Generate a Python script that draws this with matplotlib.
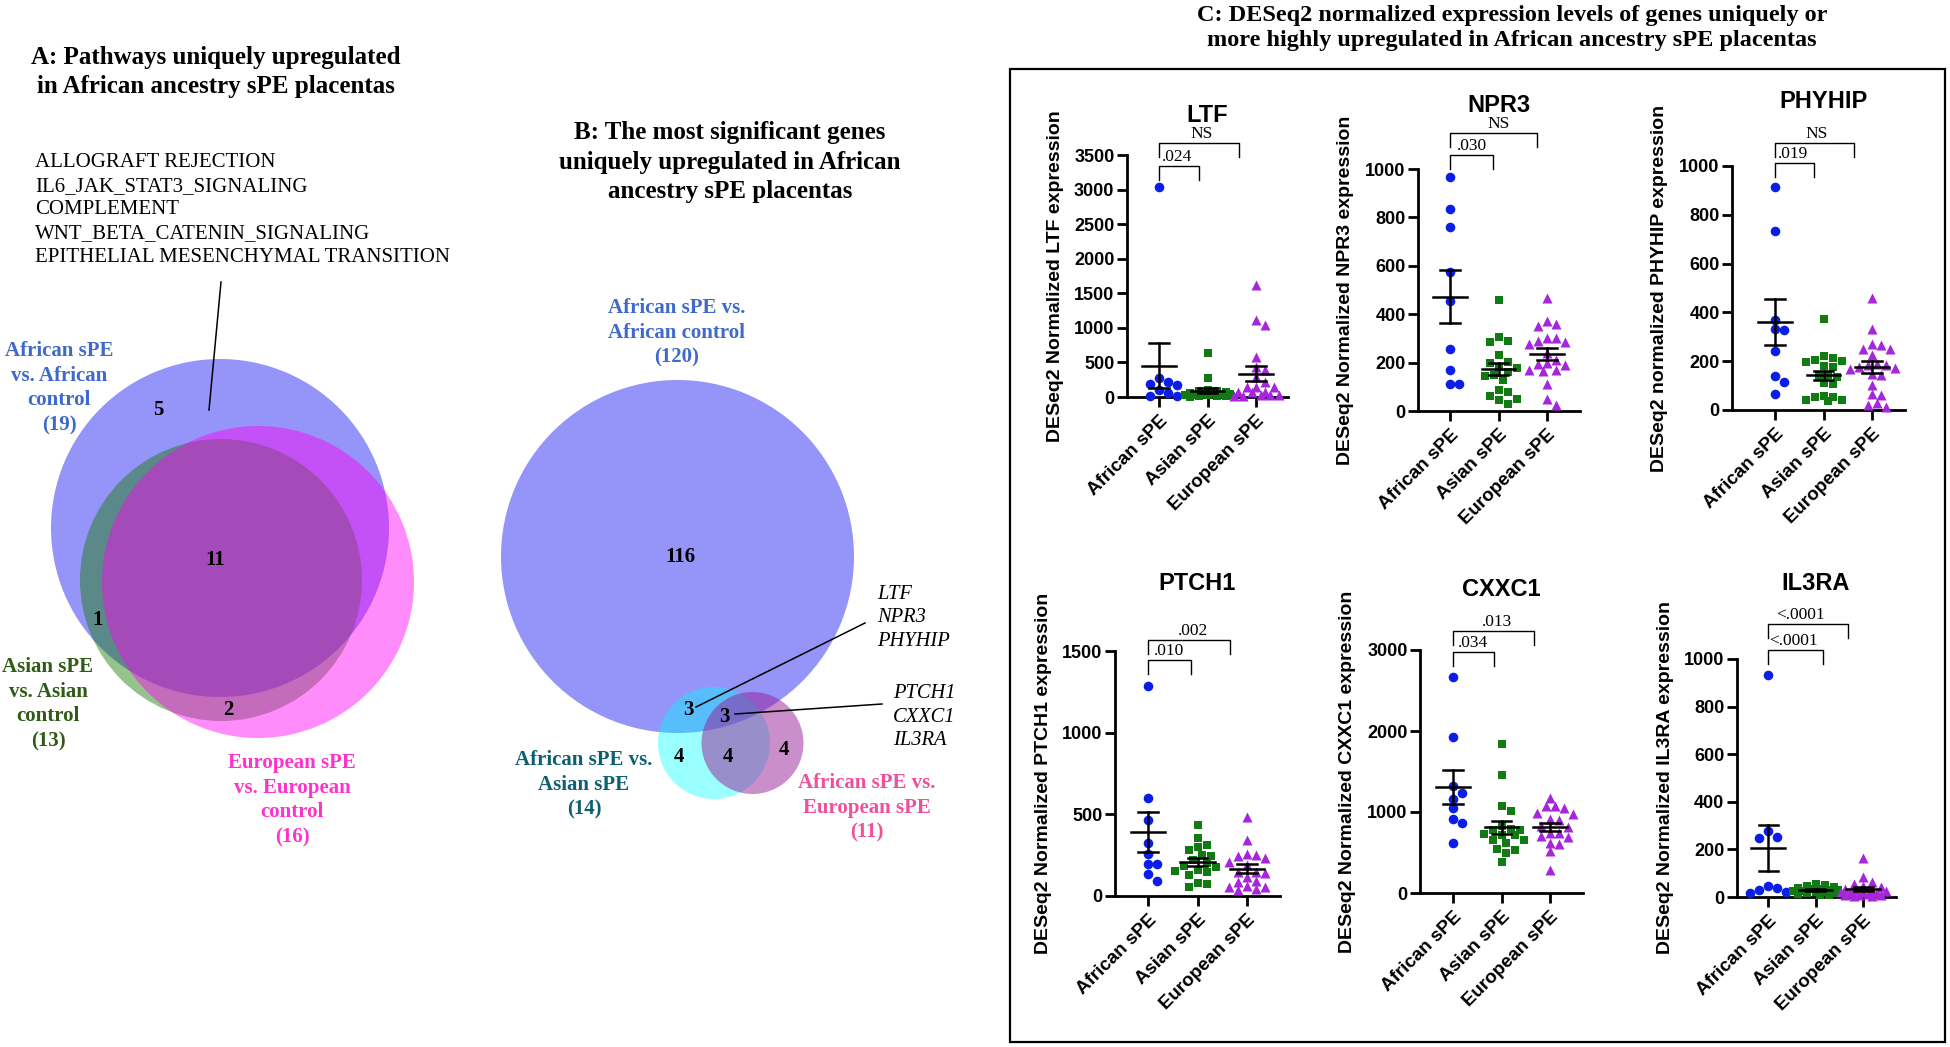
import numpy as np
import matplotlib
matplotlib.use('Agg')
import matplotlib.pyplot as plt
from matplotlib.patches import Circle, Rectangle

# ---------------- DATA ----------------
groups = ['African sPE', 'Asian sPE', 'European sPE']
genes = ['LTF', 'NPR3', 'PHYHIP', 'PTCH1', 'CXXC1', 'IL3RA']
ylabels = ['DESeq2 Normalized LTF expression', 'DESeq2 Normalized NPR3 expression',
           'DESeq2 normalized PHYHIP expression', 'DESeq2 Normalized PTCH1 expression',
           'DESeq2 Normalized CXXC1 expression', 'DESeq2 Normalized IL3RA expression']
y_top = [3500, 1000, 1000, 1500, 3000, 1000]
y_step = [500, 200, 200, 500, 1000, 200]
p_afr_asian = ['.024', '.030', '.019', '.010', '.034', '<.0001']
p_afr_europ = ['NS', 'NS', 'NS', '.002', '.013', '<.0001']

ltf_african = [3040, 275, 190, 215, 175, 100, 60, 15, 10]
ltf_asian = [630, 270, 100, 90, 80, 70, 60, 55, 50, 45, 40, 35, 30, 25, 20, 15, 10, 5]
ltf_european = [1627, 1110, 1040, 580, 435, 390, 290, 220, 150, 145, 140, 75, 72, 70, 25, 24, 22, 20, 15]

npr3_african = [966, 834, 760, 575, 454, 258, 168, 113, 113]
npr3_asian = [458, 306, 290, 285, 230, 203, 200, 182, 178, 161, 150, 145, 127, 86, 79, 62, 51, 44, 30]
npr3_european = [465, 370, 360, 350, 300, 290, 300, 285, 275, 240, 210, 200, 196, 192, 170, 168, 165, 113, 51, 23]

phyhip_african = [915, 734, 369, 331, 328, 243, 139, 116, 66]
phyhip_asian = [372, 222, 215, 205, 200, 198, 180, 175, 145, 140, 135, 110, 105, 58, 55, 52, 42, 40, 38]
phyhip_european = [460, 330, 270, 265, 250, 248, 225, 190, 186, 184, 175, 173, 170, 148, 142, 104, 65, 60, 14, 20, 30]

ptch1_african = [1284, 597, 465, 326, 257, 194, 194, 132, 92]
ptch1_asian = [434, 353, 310, 300, 281, 250, 245, 220, 200, 182, 178, 160, 155, 150, 128, 80, 75, 57]
ptch1_european = [485, 342, 255, 250, 245, 230, 210, 190, 150, 148, 140, 118, 90, 86, 60, 57, 55, 40, 35]

cxxc1_african = [2671, 1923, 1315, 1233, 1159, 1048, 912, 863, 616]
cxxc1_asian = [1838, 1460, 1068, 1007, 830, 790, 781, 775, 730, 720, 710, 660, 650, 616, 540, 530, 500, 382]
cxxc1_european = [1171, 1080, 1068, 1050, 990, 980, 910, 900, 830, 815, 745, 735, 700, 690, 620, 610, 514, 288]

il3ra_african = [931, 276, 252, 250, 45, 38, 28, 20, 15]
il3ra_asian = [55, 50, 45, 40, 38, 35, 33, 30, 28, 26, 25, 22, 20, 18, 15, 12, 10, 8]
il3ra_european = [165, 85, 65, 55, 45, 40, 35, 30, 28, 25, 22, 20, 18, 15, 12, 10, 10, 8, 6, 5]

gene_data = [
    [ltf_african, ltf_asian, ltf_european],
    [npr3_african, npr3_asian, npr3_european],
    [phyhip_african, phyhip_asian, phyhip_european],
    [ptch1_african, ptch1_asian, ptch1_european],
    [cxxc1_african, cxxc1_asian, cxxc1_european],
    [il3ra_african, il3ra_asian, il3ra_european],
]

# Venn counts
venn_a_counts = ['5', '11', '1', '2']
venn_a_sets = ['African sPE\nvs. African\ncontrol\n(19)', 'Asian sPE\nvs. Asian\ncontrol\n(13)',
               'European sPE\nvs. European\ncontrol\n(16)']
pathways = ['ALLOGRAFT REJECTION', 'IL6_JAK_STAT3_SIGNALING', 'COMPLEMENT',
            'WNT_BETA_CATENIN_SIGNALING', 'EPITHELIAL MESENCHYMAL TRANSITION']
venn_b_counts = ['116', '3', '3', '4', '4', '4']
venn_b_sets = ['African sPE vs.\nAfrican control\n(120)', 'African sPE vs.\nAsian sPE\n(14)',
               'African sPE vs.\nEuropean sPE\n(11)']
genes_b1 = ['LTF', 'NPR3', 'PHYHIP']
genes_b2 = ['PTCH1', 'CXXC1', 'IL3RA']

# ---------------- STYLE / LAYOUT ----------------
W, H = 1950, 1047
SERIF = 'Liberation Serif'
SANS = 'Liberation Sans'
fig = plt.figure(figsize=(W / 100, H / 100), dpi=100)

ov = fig.add_axes([0, 0, 1, 1])
ov.set_xlim(0, W)
ov.set_ylim(H, 0)
ov.axis('off')

# ----- Panel A -----
ov.text(216, 72, 'A: Pathways uniquely upregulated\nin African ancestry sPE placentas',
        ha='center', va='center', fontsize=18, fontweight='bold', family=SERIF, linespacing=1.35)
ov.text(35, 210, '\n'.join(pathways), ha='left', va='center', fontsize=15,
        family=SERIF, linespacing=1.33)
ov.plot([221, 209], [282, 410], color='black', lw=1.1)

ov.add_patch(Circle((220, 528), 169, facecolor=(0, 0, 243 / 255), alpha=0.42, lw=0))
ov.add_patch(Circle((221, 580), 141, facecolor=(22 / 255, 122 / 255, 0), alpha=0.45, lw=0))
ov.add_patch(Circle((258, 582), 156, facecolor=(1, 0, 245 / 255), alpha=0.45, lw=0))
for txt, (x, y) in zip(venn_a_counts, [(158, 410), (215, 560), (98, 620), (228, 710)]):
    ov.text(x, y, txt, ha='center', va='center', fontsize=15, fontweight='bold', family=SERIF)
for txt, (x, y), col in zip(venn_a_sets, [(59, 388), (48, 704), (292, 800)],
                            ['#3F6ACB', '#2F5B17', '#FF33CC']):
    ov.text(x, y, txt, ha='center', va='center', fontsize=15, fontweight='bold',
            family=SERIF, color=col, linespacing=1.33)

# ----- Panel B -----
ov.text(730, 162, 'B: The most significant genes\nuniquely upregulated in African\nancestry sPE placentas',
        ha='center', va='center', fontsize=18, fontweight='bold', family=SERIF, linespacing=1.35)
ov.add_patch(Circle((677.5, 556.5), 176.5, facecolor=(0, 0, 243 / 255), alpha=0.42, lw=0))
ov.add_patch(Circle((714, 743), 56, facecolor=(0, 1, 1), alpha=0.4, lw=0))
ov.add_patch(Circle((752.5, 743), 51, facecolor=(150 / 255, 30 / 255, 150 / 255), alpha=0.5, lw=0))
for txt, (x, y) in zip(venn_b_counts, [(680, 557), (688, 710), (724, 717), (679, 757),
                                       (728, 757), (784, 750)]):
    ov.text(x, y, txt, ha='center', va='center', fontsize=15, fontweight='bold', family=SERIF)
for txt, (x, y), col in zip(venn_b_sets, [(677, 333), (584, 785), (867, 808)],
                            ['#3F6ACB', '#0E6070', '#F0509A']):
    ov.text(x, y, txt, ha='center', va='center', fontsize=15, fontweight='bold',
            family=SERIF, color=col, linespacing=1.33)
ov.text(877, 618, '\n'.join(genes_b1), ha='left', va='center', fontsize=14.8,
        style='italic', family=SERIF, linespacing=1.35)
ov.text(893, 717, '\n'.join(genes_b2), ha='left', va='center', fontsize=14.8,
        style='italic', family=SERIF, linespacing=1.35)
ov.plot([696, 865], [707, 623], color='black', lw=1.1)
ov.plot([735, 882], [714, 704], color='black', lw=1.1)

# ----- Panel C -----
ov.text(1512, 28, 'C: DESeq2 normalized expression levels of genes uniquely or\n'
        'more highly upregulated in African ancestry sPE placentas',
        ha='center', va='center', fontsize=17.5, fontweight='bold', family=SERIF, linespacing=1.3)
ov.add_patch(Rectangle((1010, 69), 1945 - 1010, 1042 - 69, fill=False, lw=1.6, edgecolor='black'))

layout = [
    dict(left=1127, right=1288, top=155, bottom=397, c0=1159, step=48.5, title_y=115),
    dict(left=1418, right=1580, top=169, bottom=411, c0=1450, step=48.5, title_y=106),
    dict(left=1732, right=1905, top=166, bottom=410, c0=1775, step=48.5, title_y=102),
    dict(left=1115, right=1280, top=651, bottom=896, c0=1148, step=49.5, title_y=583),
    dict(left=1420, right=1583, top=650, bottom=893, c0=1453, step=48.5, title_y=590),
    dict(left=1737, right=1896, top=659, bottom=897, c0=1768, step=47.5, title_y=583),
]
# significance brackets: height (data units), right end and label x (category units)
bracket1_h = [3341, 1058, 1012, 1445, 2975, 1039]
bracket2_h = [3673, 1149, 1094, 1567, 3238, 1148]
bracket1_x1 = [0.83, 0.88, 0.80, 0.86, 0.84, 1.15]
bracket2_x1 = [1.65, 1.80, 1.63, 1.65, 1.67, 1.68]
label1_x = [0.37, 0.45, 0.37, 0.42, 0.41, 0.53]
label2_x = [0.87, 1.00, 0.85, 0.91, 0.90, 0.69]

colors = ['#0A1EE6', '#127A12', '#A626DB']
markers = ['o', 's', '^']
msizes = [48, 40, 52]


def swarm_offsets(vals, ypx, xpx, diam):
    vals = np.asarray(vals, float)
    order = np.argsort(-vals)
    placed = []
    offs = np.zeros(len(vals))
    cands = [0, 0.5, -0.5, 1, -1, 1.5, -1.5, 2, -2, 2.5, -2.5]
    for i in order:
        y = vals[i] * ypx
        best_c, best_d = 0, -1
        for c in cands:
            cx = c * diam
            d = min([np.hypot(cx - px, y - py) for px, py in placed]) if placed else 1e9
            if d >= diam * 0.95:
                best_c = cx
                break
            if d > best_d:
                best_d, best_c = d, cx
        placed.append((best_c, y))
        offs[i] = best_c / xpx
    return offs


for k, gene in enumerate(genes):
    L = layout[k]
    ax = fig.add_axes([L['left'] / W, 1 - L['bottom'] / H,
                       (L['right'] - L['left']) / W, (L['bottom'] - L['top']) / H])
    ax.set_facecolor('none')
    ax.set_xlim((L['left'] - L['c0']) / L['step'], (L['right'] - L['c0']) / L['step'])
    ymax = y_top[k]
    ax.set_ylim(0, ymax)
    ypx = (L['bottom'] - L['top']) / ymax
    xpx = L['step']
    for s in ['top', 'right']:
        ax.spines[s].set_visible(False)
    for s in ['left', 'bottom']:
        ax.spines[s].set_linewidth(2.0)
    ax.set_yticks(np.arange(0, ymax + 1, y_step[k]))
    ax.set_xticks(range(3))
    ax.set_xticklabels(groups, rotation=45, ha='right', va='top', rotation_mode='anchor')
    ax.tick_params(axis='both', width=2.0, length=7, direction='out', pad=2)
    ax.tick_params(axis='x', pad=4)
    for lab in ax.get_xticklabels():
        lab.set_fontfamily(SANS)
        lab.set_fontweight('bold')
        lab.set_fontsize(13.5)
    for lab in ax.get_yticklabels():
        lab.set_fontfamily(SANS)
        lab.set_fontweight('bold')
        lab.set_fontsize(13)
    for g in range(3):
        vals = np.asarray(gene_data[k][g], float)
        offs = swarm_offsets(vals, ypx, xpx, 9.0)
        ax.scatter(g + offs, vals, s=msizes[g], marker=markers[g], color=colors[g],
                   linewidths=0, clip_on=False, zorder=3)
        m = vals.mean()
        sem = vals.std(ddof=1) / np.sqrt(len(vals))
        ax.plot([g - 0.35, g + 0.35], [m, m], color='black', lw=1.8, zorder=4, clip_on=False)
        ax.plot([g, g], [m - sem, m + sem], color='black', lw=1.8, zorder=4, clip_on=False)
        for yy in (m - sem, m + sem):
            ax.plot([g - 0.2, g + 0.2], [yy, yy], color='black', lw=1.8, zorder=4, clip_on=False)
    leg = 14 / ypx
    for h, x1, lx, lab in [(bracket1_h[k], bracket1_x1[k], label1_x[k], p_afr_asian[k]),
                           (bracket2_h[k], bracket2_x1[k], label2_x[k], p_afr_europ[k])]:
        ax.plot([0, 0, x1, x1], [h - leg, h, h, h - leg], color='black', lw=1.0, clip_on=False)
        ax.annotate(lab, (lx, h), xytext=(0, 0.5), textcoords='offset points',
                    ha='center', va='bottom', fontsize=12.5, family=SERIF, annotation_clip=False)
    ax.text(-72 / (L['right'] - L['left']), 0.5, ylabels[k], transform=ax.transAxes,
            rotation=90, ha='center', va='center', fontsize=14, fontweight='bold', family=SANS)
    ov.text(L['c0'] + L['step'], L['title_y'], gene, ha='center', va='center',
            fontsize=17, fontweight='bold', family=SANS)

fig.savefig('out.png', dpi=100)
